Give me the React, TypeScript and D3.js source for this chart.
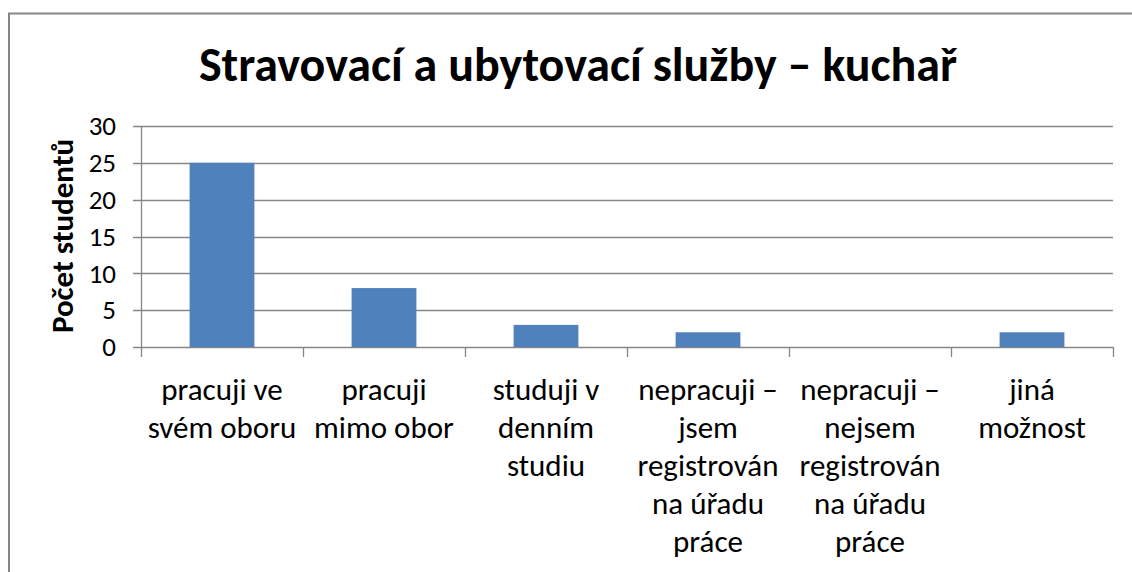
import { useRef, useEffect } from "react";
import * as d3 from "d3";

const title = "Stravovací a ubytovací služby – kuchař";
const yTitle = "Počet studentů";

// category labels, "\n" marks where the original wraps the text
const categories = [
  "pracuji ve\nsvém oboru",
  "pracuji\nmimo obor",
  "studuji v\ndenním\nstudiu",
  "nepracuji –\njsem\nregistrován\nna úřadu\npráce",
  "nepracuji –\nnejsem\nregistrován\nna úřadu\npráce",
  "jiná\nmožnost",
];
const values = [25, 8, 3, 2, 0, 2];
const yTicks = [0, 5, 10, 15, 20, 25, 30];

const FONT = "Carlito, Calibri, Lato, sans-serif";
const GRID = "#868686";
const BAR = "#4F81BD";

const App = () => {
  const chartRef = useRef<SVGSVGElement>(null);

  useEffect(() => {
    if (!chartRef.current) {
      return;
    }
    const svg = d3.select(chartRef.current);
    svg.selectAll("*").remove();

    const left = 141;
    const right = 1113;
    const top = 126;
    const bottom = 347;

    const x = d3
      .scaleBand<string>()
      .domain(categories)
      .range([left, right])
      .paddingInner(0.6)
      .paddingOuter(0.3);
    const y = d3.scaleLinear().domain([0, 30]).range([bottom, top]);
    const step = x.step();

    // outer frame
    svg
      .append("rect")
      .attr("x", 9)
      .attr("y", 13.5)
      .attr("width", 1200)
      .attr("height", 700)
      .attr("fill", "#fff")
      .attr("stroke", GRID)
      .attr("stroke-width", 2);

    svg
      .append("text")
      .attr("x", 578)
      .attr("y", 81)
      .attr("text-anchor", "middle")
      .attr("font-family", FONT)
      .attr("font-weight", "bold")
      .attr("font-size", 48)
      .text(title);

    // gridlines + y ticks
    svg
      .append("g")
      .selectAll("line")
      .data(yTicks)
      .join("line")
      .attr("x1", left - 8)
      .attr("x2", right)
      .attr("y1", (d) => Math.round(y(d)) + 0.5)
      .attr("y2", (d) => Math.round(y(d)) + 0.5)
      .attr("stroke", GRID)
      .attr("stroke-width", 1.3);

    svg
      .append("g")
      .selectAll("text")
      .data(yTicks)
      .join("text")
      .attr("x", 116)
      .attr("y", (d) => y(d))
      .attr("dy", "0.34em")
      .attr("text-anchor", "end")
      .attr("font-family", FONT)
      .attr("font-size", 27)
      .text((d) => d);

    // y axis line
    svg
      .append("line")
      .attr("x1", left + 0.5)
      .attr("x2", left + 0.5)
      .attr("y1", top)
      .attr("y2", bottom)
      .attr("stroke", GRID)
      .attr("stroke-width", 1.3);

    // category tick marks on the x axis
    svg
      .append("g")
      .selectAll("line")
      .data(d3.range(categories.length + 1))
      .join("line")
      .attr("x1", (i) => Math.round(left + i * step) + 0.5)
      .attr("x2", (i) => Math.round(left + i * step) + 0.5)
      .attr("y1", bottom)
      .attr("y2", bottom + 10)
      .attr("stroke", GRID)
      .attr("stroke-width", 1.3);

    svg
      .append("g")
      .selectAll("rect")
      .data(values)
      .join("rect")
      .attr("x", (d, i) => x(categories[i])!)
      .attr("y", (d) => y(d))
      .attr("width", x.bandwidth())
      .attr("height", (d) => bottom - y(d))
      .attr("fill", BAR);

    // wrapped category labels
    svg
      .append("g")
      .selectAll("text")
      .data(categories)
      .join("text")
      .attr("text-anchor", "middle")
      .attr("font-family", FONT)
      .attr("font-size", 31)
      .each(function (d) {
        const cx = x(d)! + x.bandwidth() / 2;
        d3.select(this)
          .selectAll("tspan")
          .data(d.split("\n"))
          .join("tspan")
          .attr("x", cx)
          .attr("y", (_, i) => 400 + i * 38)
          .text((s) => s);
      });

    svg
      .append("text")
      .attr("transform", `translate(73,236) rotate(-90)`)
      .attr("text-anchor", "middle")
      .attr("font-family", FONT)
      .attr("font-weight", "bold")
      .attr("font-size", 31)
      .text(yTitle);
  }, []);

  return (
    <svg
      ref={chartRef}
      width="1132"
      height="572"
      style={{ position: "absolute", left: 0, top: 0, background: "#fff" }}
    ></svg>
  );
};

export default App;
